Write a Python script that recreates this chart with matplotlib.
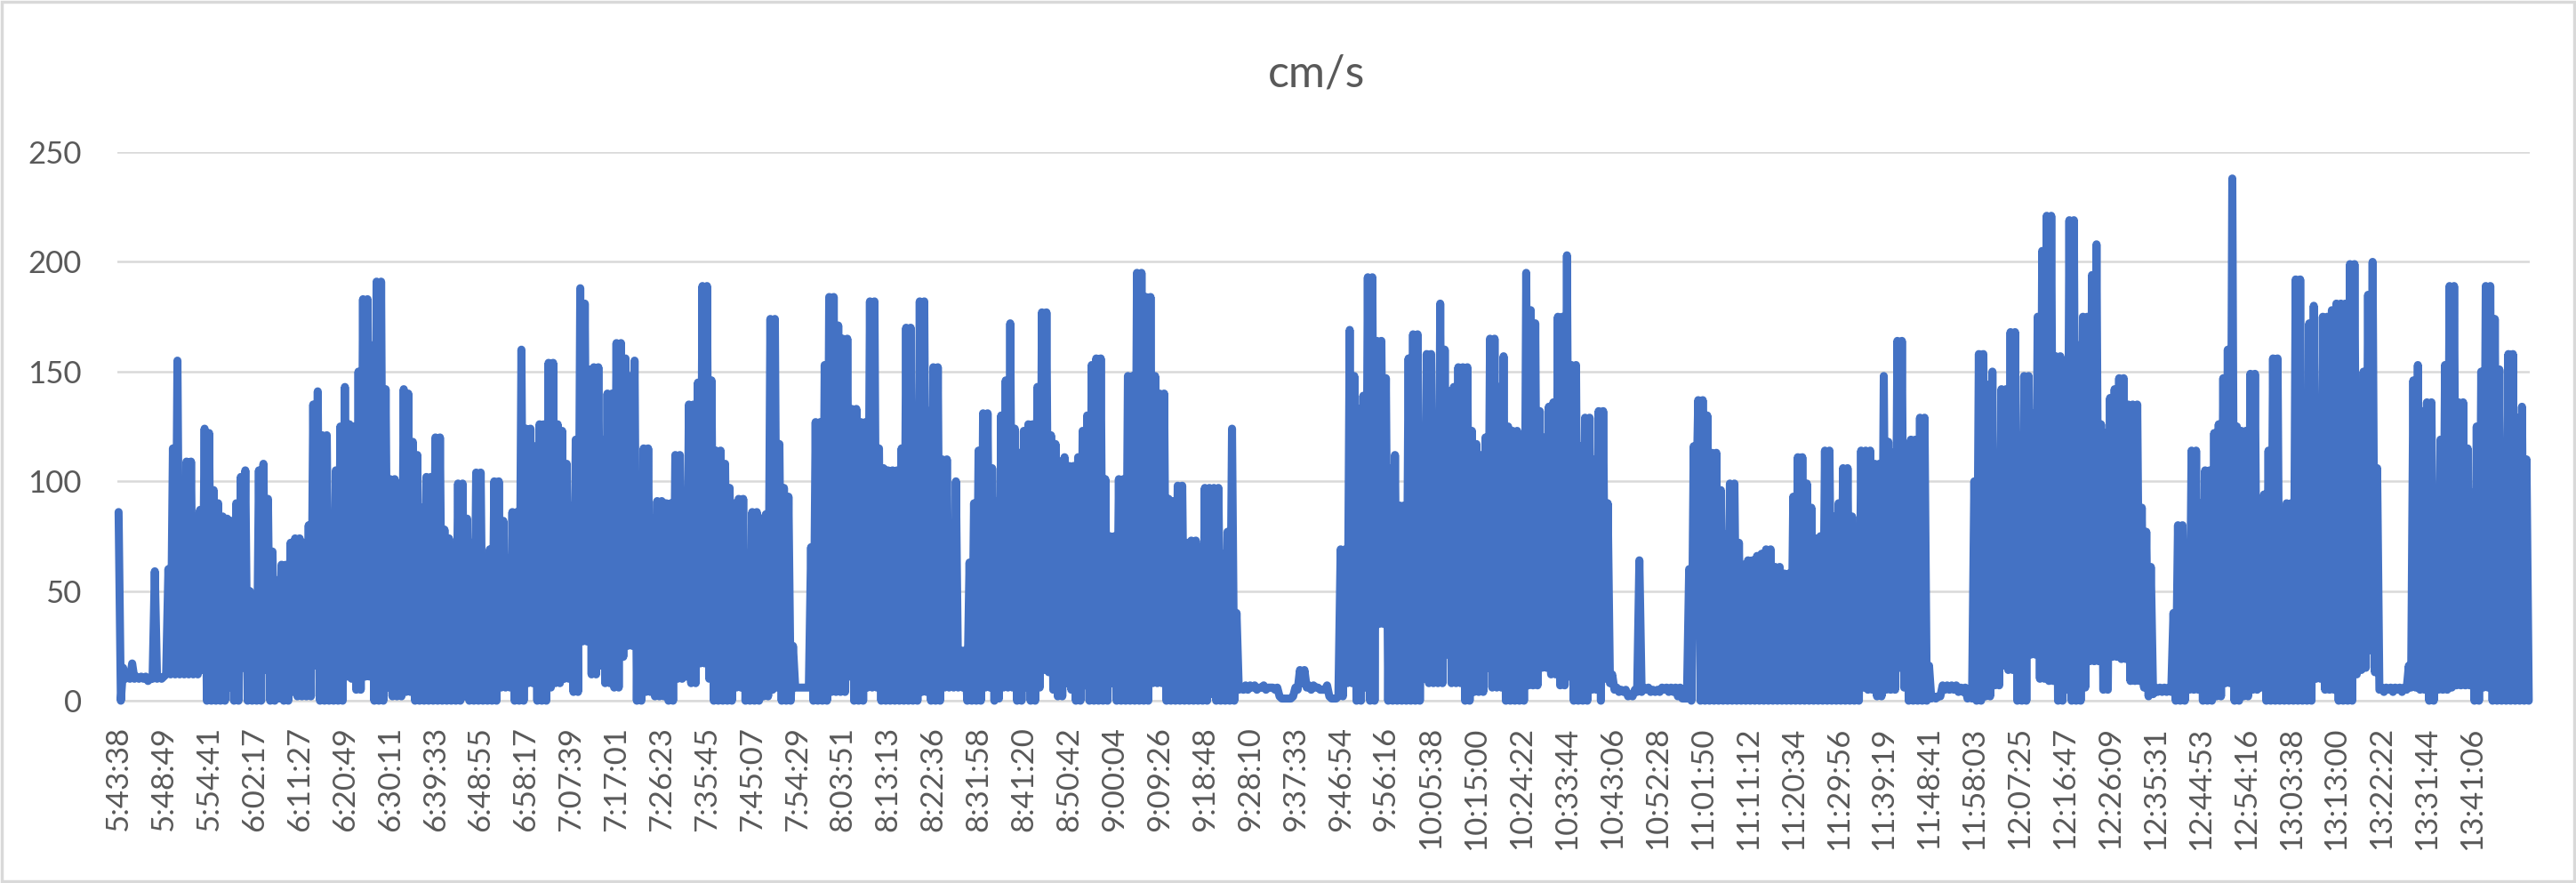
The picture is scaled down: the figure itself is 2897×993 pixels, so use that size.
import numpy as np
import matplotlib
matplotlib.use("Agg")
import matplotlib.pyplot as plt
from matplotlib.patches import Rectangle

# speed samples: one upper and one lower value per step
peaks = [
    86, 15, 11, 17, 11, 11, 11, 10, 59, 11,
    11, 60, 115, 155, 96, 109, 109, 84, 87, 124,
    122, 96, 90, 84, 83, 82, 90, 102, 105, 50,
    46, 105, 108, 92, 68, 55, 62, 62, 72, 74,
    74, 72, 80, 135, 141, 121, 121, 81, 105, 125,
    143, 126, 125, 150, 183, 183, 162, 191, 191, 142,
    101, 101, 99, 142, 140, 118, 112, 88, 102, 102,
    120, 120, 78, 74, 66, 99, 99, 83, 72, 104,
    104, 64, 69, 100, 100, 82, 65, 86, 86, 160,
    124, 124, 116, 126, 126, 154, 154, 126, 123, 108,
    89, 119, 188, 181, 151, 152, 152, 119, 140, 140,
    163, 163, 156, 148, 155, 99, 115, 115, 83, 91,
    91, 90, 90, 112, 112, 92, 135, 135, 145, 189,
    189, 146, 114, 114, 108, 97, 90, 92, 92, 37,
    86, 86, 83, 85, 174, 174, 117, 97, 93, 25,
    6, 6, 6, 70, 127, 127, 153, 184, 184, 171,
    165, 165, 133, 133, 127, 127, 182, 182, 115, 106,
    105, 105, 105, 115, 170, 170, 116, 182, 182, 132,
    152, 152, 110, 110, 69, 100, 23, 23, 63, 90,
    114, 131, 131, 106, 91, 130, 146, 172, 124, 113,
    123, 126, 126, 143, 177, 177, 121, 117, 109, 111,
    107, 107, 111, 123, 130, 153, 156, 156, 101, 75,
    75, 101, 101, 148, 148, 195, 195, 184, 184, 148,
    140, 140, 92, 91, 98, 98, 72, 73, 73, 70,
    97, 97, 97, 97, 67, 77, 124, 40, 6, 7,
    7, 7, 6, 7, 6, 6, 6, 1, 1, 1,
    6, 14, 14, 7, 7, 6, 5, 7, 1, 1,
    69, 69, 169, 148, 133, 139, 193, 193, 164, 164,
    147, 106, 112, 89, 89, 156, 167, 167, 121, 158,
    158, 103, 181, 160, 141, 143, 152, 152, 152, 123,
    117, 112, 120, 165, 165, 143, 157, 125, 123, 123,
    121, 195, 178, 172, 132, 120, 134, 136, 175, 175,
    203, 153, 153, 116, 129, 129, 110, 132, 132, 90,
    12, 6, 5, 5, 3, 5, 64, 6, 6, 5,
    5, 6, 6, 6, 6, 6, 1, 60, 116, 137,
    137, 130, 113, 113, 96, 76, 99, 99, 72, 62,
    64, 64, 66, 67, 69, 69, 61, 61, 58, 58,
    93, 111, 111, 99, 88, 74, 75, 114, 114, 84,
    90, 106, 106, 84, 74, 114, 114, 114, 108, 108,
    148, 118, 113, 164, 164, 105, 119, 119, 129, 129,
    16, 2, 2, 7, 7, 7, 7, 6, 6, 2,
    100, 158, 158, 144, 150, 107, 142, 142, 168, 168,
    121, 148, 148, 131, 175, 205, 221, 221, 157, 157,
    112, 219, 219, 162, 175, 175, 194, 208, 126, 122,
    138, 142, 147, 147, 135, 135, 135, 88, 77, 61,
    6, 6, 6, 6, 40, 80, 80, 58, 114, 114,
    90, 105, 105, 122, 126, 147, 160, 238, 125, 123,
    123, 149, 149, 91, 94, 114, 156, 156, 86, 90,
    90, 192, 192, 100, 172, 180, 138, 175, 175, 178,
    181, 181, 181, 199, 199, 141, 150, 185, 200, 106,
    6, 6, 6, 6, 6, 6, 16, 146, 153, 132,
    136, 136, 83, 119, 153, 189, 189, 136, 136, 115,
    95, 125, 150, 189, 189, 174, 151, 95, 158, 158,
    129, 134, 110,
]

troughs = [
    0, 10, 10, 10, 10, 10, 9, 10, 10, 10,
    12, 12, 12, 12, 12, 12, 12, 12, 14, 0,
    0, 0, 0, 0, 6, 0, 0, 15, 0, 0,
    0, 0, 14, 0, 0, 1, 0, 0, 4, 2,
    2, 2, 2, 16, 0, 0, 0, 0, 0, 0,
    11, 10, 5, 5, 11, 11, 0, 0, 0, 6,
    2, 2, 2, 4, 4, 0, 0, 0, 0, 0,
    0, 0, 0, 0, 0, 0, 2, 0, 0, 0,
    0, 0, 0, 0, 6, 6, 6, 0, 0, 0,
    8, 8, 0, 0, 0, 6, 8, 8, 10, 10,
    4, 4, 27, 27, 12, 12, 16, 8, 8, 6,
    6, 20, 25, 25, 0, 0, 4, 4, 2, 2,
    2, 0, 0, 10, 10, 11, 8, 8, 17, 17,
    10, 0, 0, 0, 0, 0, 6, 6, 0, 0,
    0, 0, 2, 2, 5, 6, 0, 0, 0, 6,
    6, 6, 6, 0, 0, 0, 0, 4, 4, 4,
    4, 11, 0, 0, 0, 6, 6, 6, 0, 0,
    0, 0, 0, 0, 0, 0, 0, 4, 4, 0,
    0, 0, 6, 6, 6, 6, 6, 0, 0, 0,
    0, 6, 6, 0, 1, 6, 6, 6, 0, 0,
    6, 0, 0, 6, 14, 13, 5, 2, 2, 8,
    5, 0, 0, 7, 0, 0, 0, 0, 0, 8,
    0, 0, 0, 0, 0, 0, 0, 0, 8, 8,
    8, 0, 0, 0, 0, 0, 0, 0, 0, 0,
    0, 3, 0, 0, 0, 0, 0, 5, 5, 5,
    6, 5, 6, 5, 6, 5, 2, 1, 1, 2,
    5, 8, 6, 5, 6, 5, 5, 2, 1, 2,
    2, 8, 8, 0, 0, 6, 0, 0, 35, 35,
    0, 0, 0, 0, 0, 0, 0, 0, 10, 8,
    8, 8, 8, 21, 8, 8, 8, 0, 0, 4,
    4, 4, 15, 6, 6, 6, 0, 0, 0, 0,
    0, 7, 7, 7, 15, 15, 12, 12, 7, 7,
    11, 0, 0, 0, 0, 5, 5, 0, 10, 8,
    5, 4, 4, 2, 2, 4, 4, 5, 4, 4,
    4, 5, 4, 4, 2, 1, 1, 0, 82, 0,
    0, 0, 0, 0, 0, 0, 0, 0, 0, 0,
    0, 0, 0, 0, 0, 0, 0, 0, 0, 0,
    0, 0, 0, 0, 0, 0, 0, 0, 0, 0,
    0, 0, 0, 0, 0, 6, 5, 5, 2, 2,
    5, 5, 5, 15, 6, 0, 0, 0, 0, 0,
    1, 1, 2, 5, 5, 5, 4, 4, 1, 1,
    0, 0, 2, 2, 7, 7, 16, 14, 14, 0,
    0, 0, 21, 21, 10, 10, 9, 9, 0, 0,
    5, 0, 0, 0, 6, 18, 18, 18, 5, 5,
    20, 20, 19, 19, 9, 9, 9, 6, 2, 3,
    4, 4, 4, 4, 0, 0, 0, 5, 5, 5,
    0, 0, 0, 2, 2, 8, 8, 0, 0, 2,
    2, 5, 5, 6, 0, 0, 0, 0, 0, 0,
    0, 0, 0, 0, 0, 10, 10, 5, 5, 5,
    0, 0, 0, 0, 12, 14, 15, 23, 13, 5,
    4, 5, 4, 5, 4, 5, 6, 6, 5, 5,
    0, 0, 5, 5, 5, 6, 7, 7, 7, 7,
    0, 0, 6, 6, 0, 0, 0, 0, 0, 0,
    0, 0, 0,
]

time_labels = [
    "5:43:38", "5:48:49", "5:54:41", "6:02:17", "6:11:27", "6:20:49",
    "6:30:11", "6:39:33", "6:48:55", "6:58:17", "7:07:39", "7:17:01",
    "7:26:23", "7:35:45", "7:45:07", "7:54:29", "8:03:51", "8:13:13",
    "8:22:36", "8:31:58", "8:41:20", "8:50:42", "9:00:04", "9:09:26",
    "9:18:48", "9:28:10", "9:37:33", "9:46:54", "9:56:16", "10:05:38",
    "10:15:00", "10:24:22", "10:33:44", "10:43:06", "10:52:28", "11:01:50",
    "11:11:12", "11:20:34", "11:29:56", "11:39:19", "11:48:41", "11:58:03",
    "12:07:25", "12:16:47", "12:26:09", "12:35:31", "12:44:53", "12:54:16",
    "13:03:38", "13:13:00", "13:22:22", "13:31:44", "13:41:06",
]
label_step = 10

font = ["Lato", "DejaVu Sans"]
text_color = "#595959"
grid_color = "#D9D9D9"

values = np.column_stack([peaks, troughs]).ravel()
pos = np.arange(len(values)) / 2.0

fig = plt.figure(figsize=(28.97, 9.93), dpi=100)
ax = fig.add_axes([0.0456, 0.2064, 0.9365, 0.6213])

ax.plot(pos, values, color="#4472C4", lw=6.5,
        solid_joinstyle="round", solid_capstyle="round", clip_on=False, zorder=3)

ax.set_ylim(0, 250)
ax.set_yticks(range(0, 251, 50))
ax.set_xlim(-0.25, len(peaks) - 0.25)
ax.set_xticks(np.arange(len(time_labels)) * label_step)
ax.set_xticklabels(time_labels, rotation=90)

ax.grid(axis="y", color=grid_color, lw=1.8, zorder=0)
ax.set_axisbelow(True)
for side in ["top", "right", "left"]:
    ax.spines[side].set_visible(False)
ax.spines["bottom"].set_color(grid_color)
ax.spines["bottom"].set_linewidth(1.8)

ax.tick_params(axis="both", length=0, colors=text_color, labelsize=25)
ax.tick_params(axis="y", pad=29)
ax.tick_params(axis="x", pad=21)
for lab in ax.get_xticklabels() + ax.get_yticklabels():
    lab.set_family(font)

fig.text(0.511, 1 - 84 / 993, "cm/s", ha="center", va="center",
         fontsize=36, color=text_color, family=font)

fig.patches.append(Rectangle((0.0008, 0.002), 0.9984, 0.996, transform=fig.transFigure,
                             fill=False, edgecolor=grid_color, lw=2.5))

fig.savefig("out.png", dpi=100)
